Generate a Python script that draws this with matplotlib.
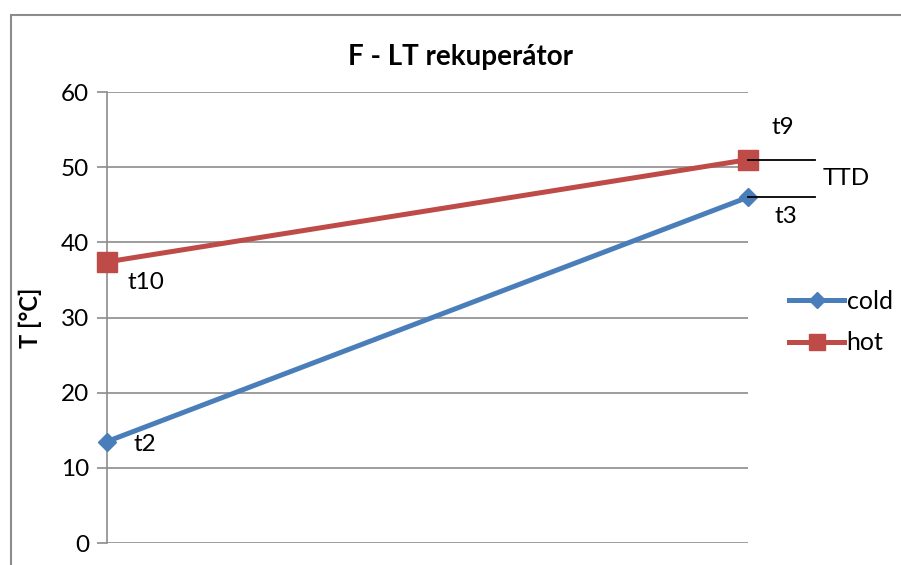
import matplotlib.pyplot as plt
from matplotlib.patches import Rectangle
from matplotlib.lines import Line2D

# hodnoty
body = [0, 1]
cold = [13.5, 46.0]
hot = [37.4, 51.0]
popisky_cold = ["t2", "t3"]
popisky_hot = ["t10", "t9"]

plt.rcParams["font.family"] = ["Lato", "DejaVu Sans"]

fig = plt.figure(figsize=(9.01, 5.65), dpi=100)
W, H = 901, 565

# ramecek kolem grafu (presahuje doprava a dolu)
fig.patches.append(Rectangle((11 / W, -0.1), 1.2, 1 - 15 / H + 0.1,
                             transform=fig.transFigure, fill=False,
                             edgecolor="#8c8c8c", linewidth=1.5))

ax = fig.add_axes([107 / W, 1 - 543 / H, (748 - 107) / W, (543 - 92) / H])

ax.plot(body, cold, color="#4a7ebb", linewidth=3.6, marker="D", markersize=9.5,
        label="cold", zorder=3, clip_on=False)
ax.plot(body, hot, color="#be4b48", linewidth=3.6, marker="s", markersize=14,
        label="hot", zorder=3, clip_on=False)

ax.set_xlim(0, 1)
ax.set_ylim(0, 60)
ax.set_yticks(range(0, 61, 10))
ax.set_xticks([])
ax.grid(axis="y", color="#8c8c8c", linewidth=1.2)
for s in ["top", "right", "bottom"]:
    ax.spines[s].set_visible(False)
ax.spines["left"].set_color("#8c8c8c")
ax.spines["left"].set_linewidth(1.2)
ax.tick_params(axis="y", length=7, width=1.2, color="#8c8c8c",
               labelsize=17.5, pad=6)
ax.set_axisbelow(True)

fig.text(30 / W, 1 - 318 / H, "T [°C]", ha="center", va="center",
         rotation=90, fontsize=17, fontweight="bold")
fig.text(460 / W, 1 - 57 / H, "F - LT rekuperátor", ha="center", va="center",
         fontsize=20, fontweight="bold")

# popisky bodu
fs = 17.5
ax.annotate(popisky_cold[0], (body[0], cold[0]), xytext=(19, -2),
            textcoords="offset points", fontsize=fs, va="center")
ax.annotate(popisky_cold[1], (body[1], cold[1]), xytext=(19, -14),
            textcoords="offset points", fontsize=fs, va="center")
ax.annotate(popisky_hot[0], (body[0], hot[0]), xytext=(15, -15),
            textcoords="offset points", fontsize=fs, va="center")
ax.annotate(popisky_hot[1], (body[1], hot[1]), xytext=(17, 23),
            textcoords="offset points", fontsize=fs, va="center")

# TTD cary
for y in [hot[1], cold[1]]:
    ax.add_line(Line2D([1, 1.105], [y, y], color="black", linewidth=1.3,
                       clip_on=False, zorder=4))
ax.text(1.116, (hot[1] + cold[1]) / 2, "TTD", fontsize=fs, va="center")

ax.legend(loc="center left", bbox_to_anchor=(1.025, 0.49), frameon=False,
          fontsize=18, handlelength=2.2, handletextpad=0.1, labelspacing=0.75,
          borderaxespad=0.6, markerscale=0.85)

fig.savefig("out.png", dpi=100)
